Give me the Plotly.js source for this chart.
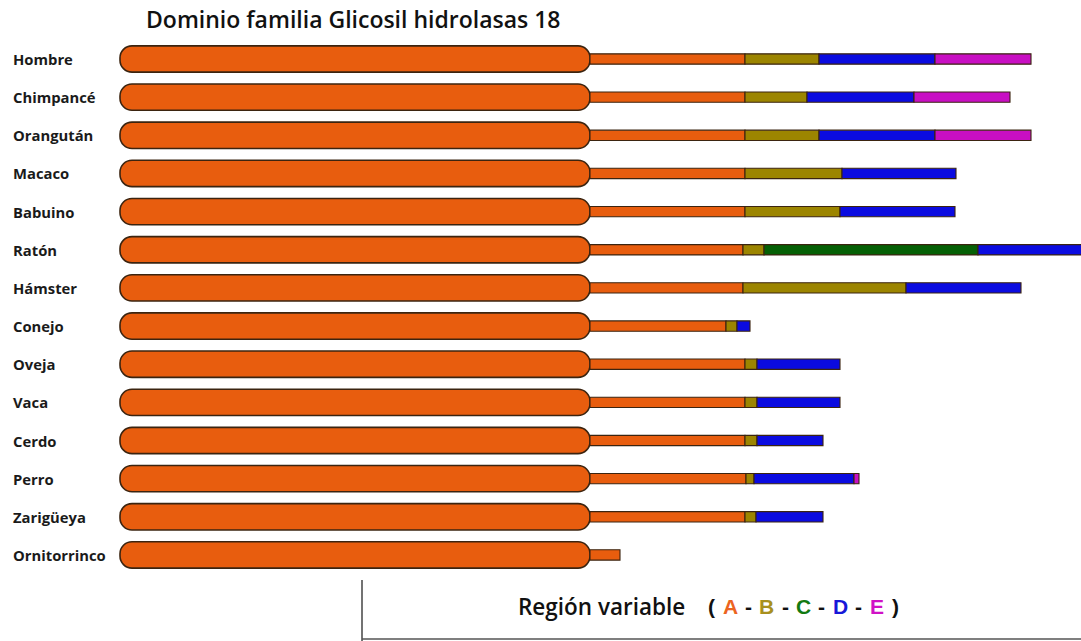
<!DOCTYPE html>
<html>
<head>
<meta charset="utf-8">
<script src="https://cdn.plot.ly/plotly-3.0.1.min.js"></script>
<style>html,body{margin:0;padding:0;background:#fff;}#chart{width:1081px;height:641px;}</style>
</head>
<body>
<div id="chart"></div>
<script>
// Species (top to bottom)
const species = ["Hombre","Chimpancé","Orangután","Macaco","Babuino","Ratón","Hámster","Conejo","Oveja","Vaca","Cerdo","Perro","Zarigüeya","Ornitorrinco"];
// Glycosyl hydrolase 18 domain length (relative units)
const domainLen = [470,470,470,470,470,470,470,470,470,470,470,470,470,470];
// Variable region segment lengths (relative units)
const regionA = [155,155,155,155,155,153,153,136,155,155,155,156,155,30];
const regionB = [74,62,74,97,95,21,163,11,12,12,12,8,11,0];
const regionC = [0,0,0,0,0,214,0,0,0,0,0,0,0,0];
const regionD = [116,107,116,114,115,106,115,13,83,83,66,100,67,0];
const regionE = [96,96,96,0,0,0,0,0,0,0,0,5,0,0];
const regionNames = ["A","B","C","D","E"];
const regionColors = ["#e85d0e","#9c8500","#056005","#0b0be0","#c80fc3"];
const legendColors = ["#ec6420","#a8901e","#127a12","#1717d8","#d012c6"];

const rows = species.map((s,i)=>i);
const outline = "#3b2410";
const traces = [];
traces.push({
  type:"bar", orientation:"h", y:rows, x:domainLen, base:rows.map(()=>0),
  width:0.69, marker:{color:"#e85d0e", cornerradius:12, line:{color:outline,width:1.6}},
  hoverinfo:"skip", showlegend:false
});
const regions=[regionA,regionB,regionC,regionD,regionE];
let cum = domainLen.slice();
regions.forEach((arr,k)=>{
  const base = cum.slice();
  traces.push({
    type:"bar", orientation:"h", y:rows,
    x:arr.map(v=>v>0?v:null), base:base,
    width:0.27, marker:{color:regionColors[k], line:{color:outline,width:1.1}},
    name:regionNames[k], hoverinfo:"skip", showlegend:false
  });
  cum = cum.map((c,i)=>c+arr[i]);
});

const W=1081, H=641;
const annotations = species.map((s,i)=>({
  xref:"paper", yref:"y", x:11/W, y:i, xanchor:"left", yanchor:"middle",
  text:s, showarrow:false, font:{family:"Open Sans", size:14.8, color:"#1a1a1a", weight:700}
}));
const legY = 1-606/H;
annotations.push({
  xref:"paper", yref:"paper", x:516/W, y:legY, xanchor:"left", yanchor:"middle",
  text:"Región variable", showarrow:false, font:{family:"Open Sans", size:22.5, color:"#111", weight:600}
});
const legFont = {family:"Liberation Sans", size:21, weight:700};
annotations.push({xref:"paper", yref:"paper", x:711.5/W, y:legY, xanchor:"center", yanchor:"middle",
  text:"(", showarrow:false, font:Object.assign({color:"#111"},legFont)});
annotations.push({xref:"paper", yref:"paper", x:895.5/W, y:legY, xanchor:"center", yanchor:"middle",
  text:")", showarrow:false, font:Object.assign({color:"#111"},legFont)});
regionNames.forEach((n,k)=>{
  const cx = 730 + k*36.7;
  annotations.push({xref:"paper", yref:"paper", x:cx/W, y:legY, xanchor:"center", yanchor:"middle",
    text:n, showarrow:false, font:Object.assign({color:legendColors[k]},legFont)});
  if(k<regionNames.length-1){
    annotations.push({xref:"paper", yref:"paper", x:(cx+18.3)/W, y:legY, xanchor:"center", yanchor:"middle",
      text:"-", showarrow:false, font:Object.assign({color:"#111"},legFont)});
  }
});

const rowPx = 38.15, firstPx = 59;
const layout = {
  width:W, height:H,
  margin:{l:0,r:0,t:0,b:0},
  paper_bgcolor:"#fff", plot_bgcolor:"#fff",
  title:{text:"Dominio familia Glicosil hidrolasas 18", x:146/W, xanchor:"left", y:1-20/H, yanchor:"middle",
    font:{family:"Open Sans", size:23, color:"#111", weight:600}},
  barmode:"overlay",
  xaxis:{range:[-120,961], visible:false, fixedrange:true},
  yaxis:{range:[(H-firstPx)/rowPx, -firstPx/rowPx], visible:false, fixedrange:true},
  annotations:annotations,
  shapes:[
    {type:"line", xref:"paper", yref:"paper", x0:362/W, x1:362/W, y0:1-580/H, y1:0, line:{color:"#444",width:1.5}},
    {type:"line", xref:"paper", yref:"paper", x0:362/W, x1:1, y0:1-639/H, y1:1-639/H, line:{color:"#555",width:1.5}}
  ],
  showlegend:false
};
Plotly.newPlot("chart", traces, layout, {displayModeBar:false, staticPlot:true});
</script>
</body>
</html>
